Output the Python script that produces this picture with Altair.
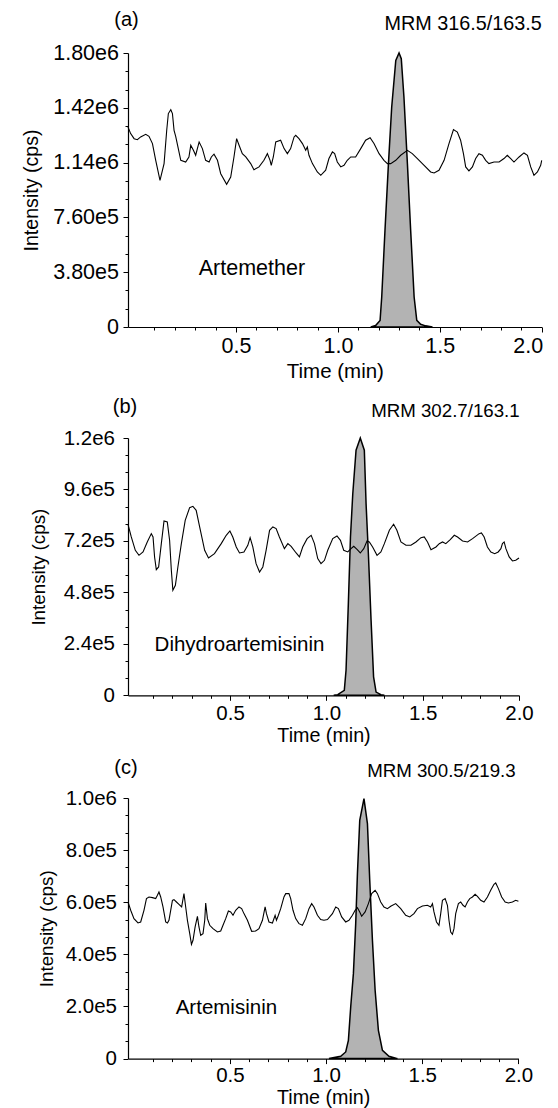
import altair as alt
import pandas as pd

FONT = "Liberation Sans"

# ---------------- data ----------------
x_major = [0.5, 1.0, 1.5, 2.0]
x_ticks = [round(0.1 * k, 1) for k in range(1, 21)]

# Panel (a) Artemether
a_tag = "(a)"
a_mrm = "MRM 316.5/163.5"
a_name = "Artemether"
a_name_pos = [0.317, 358500]
a_yticks = [0, 380000, 760000, 1140000, 1520000, 1900000]
a_ylabels = ["0", "3.80e5", "7.60e5", "1.14e6", "1.42e6", "1.80e6"]
a_noise_time = [-0.030, -0.017, 0.000, 0.016, 0.032, 0.057, 0.073, 0.090, 0.106, 0.127,
                0.147, 0.160, 0.168, 0.180, 0.188, 0.196, 0.204, 0.229, 0.253, 0.269,
                0.278, 0.291, 0.302, 0.319, 0.335, 0.351, 0.368, 0.379, 0.392, 0.409,
                0.425, 0.454, 0.474, 0.490, 0.503, 0.515, 0.531, 0.548, 0.572, 0.588,
                0.613, 0.637, 0.654, 0.667, 0.673, 0.683, 0.695, 0.719, 0.736, 0.752,
                0.768, 0.785, 0.793, 0.809, 0.826, 0.842, 0.850, 0.858, 0.875, 0.899,
                0.916, 0.940, 0.956, 0.973, 0.984, 0.997, 1.014, 1.030, 1.046, 1.063,
                1.087, 1.112, 1.136, 1.158, 1.177, 1.202, 1.226, 1.243, 1.259, 1.284,
                1.308, 1.341, 1.365, 1.390, 1.423, 1.455, 1.472, 1.496, 1.521, 1.545,
                1.567, 1.586, 1.602, 1.616, 1.627, 1.643, 1.660, 1.676, 1.692, 1.709,
                1.725, 1.741, 1.766, 1.791, 1.815, 1.831, 1.848, 1.864, 1.889, 1.913,
                1.930, 1.946, 1.962, 1.979, 1.995, 2.000]
a_noise_int = [1387000, 1341000, 1306000, 1299000, 1318000, 1336000, 1322000, 1272000, 1156000, 1017000,
               1133000, 1364000, 1480000, 1507000, 1480000, 1364000, 1322000, 1156000, 1144000, 1179000,
               1260000, 1225000, 1191000, 1283000, 1237000, 1156000, 1144000, 1179000, 1198000, 1156000,
               1063000, 989000, 1040000, 1179000, 1306000, 1260000, 1202000, 1179000, 1133000, 1091000,
               1110000, 1156000, 1202000, 1156000, 1121000, 1179000, 1283000, 1295000, 1237000, 1202000,
               1237000, 1318000, 1329000, 1306000, 1272000, 1225000, 1248000, 1191000, 1133000, 1075000,
               1052000, 1087000, 1168000, 1214000, 1202000, 1144000, 1110000, 1121000, 1156000, 1179000,
               1179000, 1237000, 1295000, 1313000, 1272000, 1202000, 1156000, 1133000, 1133000, 1156000,
               1191000, 1225000, 1202000, 1168000, 1121000, 1075000, 1068000, 1087000, 1156000, 1272000,
               1369000, 1352000, 1295000, 1202000, 1110000, 1082000, 1110000, 1168000, 1202000, 1191000,
               1156000, 1133000, 1144000, 1144000, 1168000, 1191000, 1168000, 1144000, 1179000, 1207000,
               1191000, 1110000, 1052000, 1075000, 1121000, 1156000]
a_peak_time = [1.161, 1.185, 1.207, 1.215, 1.231, 1.248, 1.264, 1.284, 1.300, 1.311,
               1.324, 1.341, 1.357, 1.374, 1.387, 1.406, 1.430, 1.464]
a_peak_int = [0, 10000, 46000, 208000, 670000, 1133000, 1526000, 1849000, 1900000, 1861000,
              1595000, 1133000, 670000, 208000, 46000, 19000, 8000, 0]

# Panel (b) Dihydroartemisinin
b_tag = "(b)"
b_mrm = "MRM 302.7/163.1"
b_name = "Dihydroartemisinin"
b_name_pos = [0.108, 205200]
b_yticks = [0, 240000, 480000, 720000, 960000, 1200000]
b_ylabels = ["0", "2.4e5", "4.8e5", "7.2e5", "9.6e5", "1.2e6"]
b_noise_time = [-0.030, -0.013, 0.008, 0.027, 0.048, 0.070, 0.091, 0.100, 0.108, 0.117,
                0.129, 0.143, 0.157, 0.174, 0.186, 0.195, 0.203, 0.216, 0.229, 0.247,
                0.267, 0.290, 0.307, 0.324, 0.342, 0.368, 0.388, 0.419, 0.454, 0.480,
                0.499, 0.514, 0.532, 0.549, 0.572, 0.592, 0.604, 0.618, 0.635, 0.653,
                0.670, 0.687, 0.705, 0.722, 0.739, 0.756, 0.782, 0.800, 0.817, 0.843,
                0.860, 0.877, 0.900, 0.921, 0.938, 0.955, 0.972, 0.990, 1.007, 1.033,
                1.055, 1.073, 1.090, 1.111, 1.128, 1.142, 1.159, 1.176, 1.194, 1.211,
                1.223, 1.240, 1.263, 1.283, 1.301, 1.327, 1.349, 1.366, 1.387, 1.413,
                1.439, 1.465, 1.491, 1.508, 1.525, 1.543, 1.569, 1.586, 1.603, 1.620,
                1.643, 1.664, 1.681, 1.707, 1.733, 1.759, 1.793, 1.805, 1.819, 1.836,
                1.854, 1.874, 1.892, 1.906, 1.914, 1.923, 1.932, 1.949, 1.966, 1.983,
                2.000]
b_noise_int = [797500, 738400, 676300, 652900, 668500, 715100, 754000, 738400, 645200, 586100,
               598500, 707300, 813100, 808400, 722900, 583000, 489700, 513000, 598500, 707300,
               816200, 875200, 881500, 862800, 785100, 676300, 640500, 660700, 707300, 746200,
               766400, 738400, 691800, 663800, 668500, 699600, 735300, 691800, 614100, 575200,
               598500, 676300, 769500, 785100, 777300, 738400, 684000, 707300, 694900, 663800,
               645200, 691800, 730700, 746200, 707300, 637400, 614100, 629600, 676300, 730700,
               743100, 722900, 676300, 668500, 684000, 694900, 680900, 663800, 684000, 719800,
               715100, 691800, 652900, 668500, 707300, 769500, 797500, 769500, 715100, 699600,
               699600, 715100, 735300, 738400, 715100, 679400, 691800, 707300, 715100, 707300,
               726000, 746200, 738400, 719800, 715100, 730700, 754000, 757100, 738400, 691800,
               668500, 660700, 668500, 684000, 707300, 715100, 684000, 645200, 626500, 629600,
               640500]
b_peak_time = [1.038, 1.059, 1.093, 1.102, 1.114, 1.125, 1.137, 1.154, 1.176, 1.197,
               1.206, 1.218, 1.232, 1.245, 1.258, 1.283, 1.301]
b_peak_int = [0, 3000, 23000, 117000, 428000, 738000, 940000, 1143000, 1200000, 1143000,
              894000, 661000, 350000, 86000, 15000, 3000, 0]

# Panel (c) Artemisinin
c_tag = "(c)"
c_mrm = "MRM 300.5/219.3"
c_name = "Artemisinin"
c_name_pos = [0.218, 172700]
c_yticks = [0, 200000, 400000, 600000, 800000, 1000000]
c_ylabels = ["0", "2.0e5", "4.0e5", "6.0e5", "8.0e5", "1.0e6"]
c_noise_time = [-0.030, -0.016, 0.001, 0.022, 0.036, 0.053, 0.066, 0.079, 0.097, 0.114,
                0.123, 0.131, 0.140, 0.152, 0.166, 0.175, 0.183, 0.192, 0.201, 0.209,
                0.222, 0.235, 0.249, 0.261, 0.270, 0.279, 0.291, 0.300, 0.308, 0.319,
                0.331, 0.339, 0.348, 0.360, 0.369, 0.374, 0.383, 0.395, 0.412, 0.435,
                0.452, 0.464, 0.478, 0.492, 0.504, 0.516, 0.530, 0.547, 0.561, 0.573,
                0.591, 0.613, 0.634, 0.651, 0.669, 0.683, 0.690, 0.703, 0.721, 0.735,
                0.742, 0.752, 0.764, 0.781, 0.790, 0.807, 0.816, 0.828, 0.842, 0.859,
                0.877, 0.894, 0.911, 0.925, 0.937, 0.955, 0.972, 0.989, 1.007, 1.033,
                1.050, 1.064, 1.081, 1.102, 1.119, 1.137, 1.151, 1.163, 1.175, 1.185,
                1.203, 1.220, 1.237, 1.255, 1.267, 1.284, 1.301, 1.319, 1.336, 1.362,
                1.388, 1.414, 1.435, 1.457, 1.475, 1.501, 1.527, 1.544, 1.553, 1.561,
                1.574, 1.587, 1.596, 1.605, 1.619, 1.631, 1.639, 1.648, 1.657, 1.665,
                1.674, 1.688, 1.700, 1.712, 1.723, 1.735, 1.747, 1.761, 1.775, 1.787,
                1.804, 1.821, 1.839, 1.856, 1.873, 1.882, 1.896, 1.913, 1.931, 1.948,
                1.969, 1.986, 2.000]
c_noise_int = [601000, 569100, 537100, 520500, 524300, 569100, 613900, 620200, 617700, 613900,
               626600, 639400, 620200, 581900, 524300, 520500, 530700, 569100, 607400, 610000,
               601000, 592100, 581900, 633000, 581900, 530700, 479500, 438600, 454000, 505100,
               546000, 505100, 473100, 479500, 530700, 597200, 537100, 511500, 498700, 485900,
               489800, 511500, 537100, 566500, 562700, 549900, 569100, 581900, 575500, 556300,
               530700, 488500, 489800, 498700, 530700, 581900, 556300, 524300, 520500, 549900,
               530700, 549900, 575500, 620200, 633000, 633000, 613900, 569100, 537100, 517900,
               511500, 537100, 575500, 594700, 581900, 549900, 533300, 530700, 533300, 556300,
               581900, 575500, 543500, 524300, 530700, 549900, 569100, 579300, 562700, 546000,
               562700, 594700, 633000, 645800, 633000, 601000, 581900, 575500, 584400, 594700,
               575500, 549900, 543500, 556300, 575500, 585700, 588300, 581900, 594700, 562700,
               524300, 511500, 556300, 607400, 613900, 588300, 530700, 485900, 477000, 498700,
               556300, 594700, 601000, 588300, 581900, 601000, 613900, 620200, 630500, 622800,
               607400, 601000, 620200, 645800, 668800, 674000, 652200, 620200, 601000, 597200,
               601000, 607400, 603600]
c_peak_time = [1.015, 1.076, 1.102, 1.116, 1.128, 1.142, 1.154, 1.163, 1.175, 1.197,
               1.215, 1.227, 1.241, 1.255, 1.272, 1.293, 1.327, 1.371]
c_peak_int = [0, 8800, 25500, 70200, 198100, 326000, 517900, 709800, 914400, 997600,
              901600, 684200, 454000, 262100, 108600, 31800, 8800, 0]


def panel(noise_t, noise_v, peak_t, peak_v, name, name_pos, tag, mrm,
          yticks, ylabels, w, h, fs, yfs, xfs, tfs, mfs, ylpad, yext, xlpad, xtpad,
          left, top, bottom, tag_dx, tag_y, mrm_dx, mrm_y, flush=False):
    step = yticks[1]
    yvals = []
    for i in range(len(yticks) - 1):
        yvals += [yticks[i], yticks[i] + step / 3, yticks[i] + 2 * step / 3]
    yvals.append(yticks[-1])
    ymaj = "[" + ",".join(str(v) for v in yticks) + "]"
    ylab_expr = "".join(f"datum.value === {v} ? '{l}' : " for v, l in zip(yticks, ylabels)) + "''"
    xmaj = "[" + ",".join(repr(v) for v in x_major) + "]"

    xscale = alt.Scale(domain=[-0.03, 2.0], nice=False, zero=False)
    yscale = alt.Scale(domain=[0, yticks[-1]], nice=False, zero=True)

    common = dict(domainColor="black", tickColor="black", labelColor="black",
                  titleColor="black", labelFont=FONT, titleFont=FONT,
                  labelFontSize=fs, titleFontWeight="normal",
                  grid=False, labelOverlap=False, tickWidth=1, domainWidth=1.2)
    xaxis = alt.Axis(values=x_ticks, title="Time (min)", titleFontSize=xfs,
                     labelExpr=f"indexof({xmaj}, datum.value) >= 0 ? format(datum.value, '.1f') : ''",
                     tickSize={"condition": {"test": f"indexof({xmaj}, datum.value) < 0", "value": 3}, "value": 5},
                     labelFlush=flush, labelFlushOffset=1 if flush else 0,
                     labelPadding=xlpad, titlePadding=xtpad, **common)
    yaxis = alt.Axis(values=yvals, title="Intensity (cps)", titleFontSize=yfs, labelExpr=ylab_expr,
                     tickSize={"condition": {"test": f"indexof({ymaj}, datum.value) < 0", "value": 3}, "value": 5},
                     labelPadding=ylpad, titlePadding=0, minExtent=yext, maxExtent=yext, **common)

    X = alt.X("t:Q", scale=xscale, axis=xaxis, title="Time (min)")
    Y = alt.Y("v:Q", scale=yscale, axis=yaxis, title="Intensity (cps)")

    noise_df = pd.DataFrame({"t": noise_t, "v": noise_v})
    peak_df = pd.DataFrame({"t": peak_t, "v": peak_v})
    name_df = pd.DataFrame({"t": [name_pos[0]], "v": [name_pos[1]], "label": [name]})

    area = alt.Chart(peak_df).mark_area(fill="#b3b3b3", stroke="black", strokeWidth=1.5,
                                        opacity=1, interpolate="linear").encode(x=X, y=Y)
    line = alt.Chart(noise_df).mark_line(color="black", strokeWidth=1.1).encode(x=X, y=Y)
    label = alt.Chart(name_df).mark_text(align="left", baseline="alphabetic", font=FONT,
                                         fontSize=fs, color="black").encode(
        x=X, y=Y, text="label:N")
    tag_df = pd.DataFrame({"s": [tag]})
    tag_txt = alt.Chart(tag_df).mark_text(align="center", baseline="alphabetic", font=FONT,
                                          fontSize=tfs, color="black").encode(
        x=alt.value(tag_dx), y=alt.value(tag_y), text="s:N")
    mrm_df = pd.DataFrame({"s": [mrm]})
    mrm_txt = alt.Chart(mrm_df).mark_text(align="right", baseline="alphabetic", font=FONT,
                                          fontSize=mfs, color="black").encode(
        x=alt.value(w + mrm_dx), y=alt.value(mrm_y), text="s:N")
    helper = alt.Chart(pd.DataFrame({"k": [0]})).mark_rect(opacity=0).encode(
        x=alt.value(-left), x2=alt.value(-left + 1),
        y=alt.value(-top), y2=alt.value(h + bottom))
    return alt.layer(area, line, label, tag_txt, mrm_txt, helper).properties(width=w, height=h)


pa = panel(a_noise_time, a_noise_int, a_peak_time, a_peak_int, a_name, a_name_pos, a_tag, a_mrm,
           a_yticks, a_ylabels, w=413.7, h=274, fs=21.5, yfs=19.6, xfs=20.5, tfs=20, mfs=19.8,
           ylpad=4.5, yext=86.5, xlpad=3.3, xtpad=5, left=119.3, top=44.7, bottom=69,
           tag_dx=-1.5, tag_y=-26.7, mrm_dx=0, mrm_y=-22.7, flush=True)
pb = panel(b_noise_time, b_noise_int, b_peak_time, b_peak_int, b_name, b_name_pos, b_tag, b_mrm,
           b_yticks, b_ylabels, w=391, h=257.3, fs=20.5, yfs=18.8, xfs=19.7, tfs=20, mfs=18.7,
           ylpad=8.5, yext=79.4, xlpad=3.1, xtpad=1.9, left=115.3, top=42, bottom=60.7,
           tag_dx=-3, tag_y=-24.7, mrm_dx=0.7, mrm_y=-21)
pc = panel(c_noise_time, c_noise_int, c_peak_time, c_peak_int, c_name, c_name_pos, c_tag, c_mrm,
           c_yticks, c_ylabels, w=390.4, h=260.6, fs=20.5, yfs=18.8, xfs=19.7, tfs=20, mfs=18.7,
           ylpad=6.5, yext=71.6, xlpad=2.2, xtpad=0.8, left=114.3, top=42, bottom=50,
           tag_dx=-2, tag_y=-24.2, mrm_dx=-2.7, mrm_y=-21)

chart = alt.vconcat(pa, pb, pc, spacing=0).properties(padding=0).configure_view(stroke=None)

chart.save("out.html", embed_options={"renderer": "svg", "actions": False})
